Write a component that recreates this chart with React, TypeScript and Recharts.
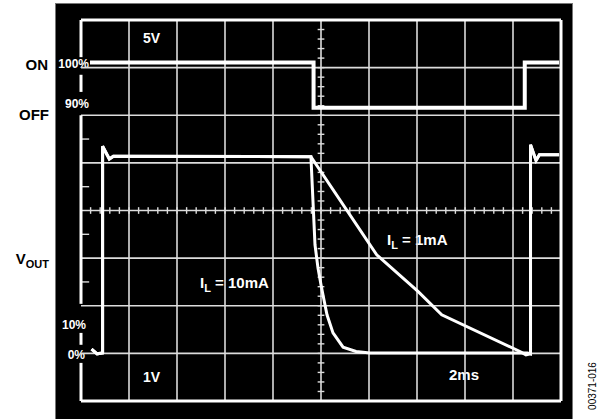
import React from 'react';
import { ComposedChart, Line, XAxis, YAxis, ReferenceLine } from 'recharts';

// time in ms (2 ms/div), amplitude in screen divisions (0 = bottom, 8 = top)
const timeGrid = [0, 2, 4, 6, 8, 10, 12, 14, 16, 18, 20];
const levelGrid = [0, 1, 2, 3, 4, 5, 6, 7, 8];

// shutdown / control input (5V/div): ON at top, OFF one step lower
const controlTrace = [
  { t: 0.375, v: 7.11 },
  { t: 9.69, v: 7.11 },
  { t: 9.69, v: 6.16 },
  { t: 18.49, v: 6.16 },
  { t: 18.49, v: 7.11 },
  { t: 19.92, v: 7.11 },
];

// V_OUT (1V/div) turn-on at the left edge
const turnOnLeft = [
  { t: 0.44, v: 1.09 },
  { t: 0.67, v: 0.99 },
  { t: 0.9, v: 1.01 },
  { t: 0.9, v: 5.35 },
  { t: 1.18, v: 5.08 },
  { t: 1.35, v: 5.14 },
  { t: 9.58, v: 5.13 },
];

// discharge with IL = 10mA
const decay10mA = [
  { t: 9.75, v: 3.28 },
  { t: 9.875, v: 2.79 },
  { t: 10.0, v: 2.44 },
  { t: 10.125, v: 2.12 },
  { t: 10.25, v: 1.81 },
  { t: 10.5, v: 1.43 },
  { t: 10.92, v: 1.13 },
  { t: 11.46, v: 1.04 },
  { t: 12.04, v: 1.01 },
  { t: 18.6, v: 1.01 },
];

// discharge with IL = 1mA
const decay1mA = [
  { t: 12.32, v: 3.07 },
  { t: 14.04, v: 2.3 },
  { t: 15.03, v: 1.81 },
  { t: 18.29, v: 1.04 },
  { t: 18.54, v: 0.97 },
];

// turn-on again at the right edge
const turnOnRight = [
  { t: 18.73, v: 0.99 },
  { t: 18.73, v: 5.38 },
  { t: 18.96, v: 5.05 },
  { t: 19.1, v: 5.17 },
  { t: 19.92, v: 5.17 },
];

const vout10mA = [...turnOnLeft, ...decay10mA, ...turnOnRight];
const vout1mA = [...turnOnLeft, ...decay1mA, ...turnOnRight];

// left frame edge is broken where the level labels sit
const leftFrameSegments = [
  [7.22, 8],
  [6.49, 6.85],
  [2.04, 6.0],
  [1.18, 1.43],
  [0, 0.8],
];
const leftFrameTicks = [2.5, 3.5, 4.5, 5.5];

const minorX: number[] = [];
for (let i = 1; i < 50; i++) minorX.push(i * 0.4);
const minorY: number[] = [];
for (let i = 1; i < 40; i++) minorY.push(i * 0.2);

const GRID = '#dcdcdc';
const FONT = '"Liberation Sans", Arial, sans-serif';

export default function App() {
  return (
    <div style={{ position: 'absolute', left: 0, top: 0, width: 599, height: 419, fontFamily: FONT }}>
      <div
        style={{
          position: 'absolute',
          left: 55,
          top: 3,
          width: 518,
          height: 418,
          background: '#000',
          border: '1px solid #777',
          boxSizing: 'border-box',
        }}
      />
      <div style={{ position: 'absolute', left: 0, top: 0 }}>
        <ComposedChart width={599} height={419} margin={{ top: 20, right: 38, bottom: 18, left: 81 }}>
          <XAxis dataKey="t" type="number" domain={[0, 20]} hide allowDataOverflow />
          <YAxis type="number" domain={[0, 8]} hide allowDataOverflow />

          {timeGrid.slice(1, -1).map((x) => (
            <ReferenceLine key={'gx' + x} x={x} stroke={GRID} strokeWidth={1.6} />
          ))}
          {levelGrid.slice(1, -1).map((y) => (
            <ReferenceLine key={'gy' + y} y={y} stroke={GRID} strokeWidth={1.6} />
          ))}

          {minorX.map((x) => (
            <ReferenceLine
              key={'mx' + x}
              segment={[{ x, y: 3.93 }, { x, y: 4.07 }]}
              stroke={GRID}
              strokeWidth={1.4}
            />
          ))}
          {minorY.map((y) => (
            <ReferenceLine
              key={'my' + y}
              segment={[{ x: 9.86, y }, { x: 10.14, y }]}
              stroke={GRID}
              strokeWidth={1.4}
            />
          ))}
          {leftFrameTicks.map((y) => (
            <ReferenceLine
              key={'lt' + y}
              segment={[{ x: 0, y }, { x: 0.34, y }]}
              stroke={GRID}
              strokeWidth={1.4}
            />
          ))}

          <ReferenceLine y={8} stroke="#fff" strokeWidth={3} ifOverflow="visible" />
          <ReferenceLine y={0} stroke="#fff" strokeWidth={3} ifOverflow="visible" />
          <ReferenceLine x={20} stroke="#fff" strokeWidth={3} ifOverflow="visible" />
          {leftFrameSegments.map(([a, b]) => (
            <ReferenceLine
              key={'lf' + a}
              segment={[{ x: 0, y: a }, { x: 0, y: b }]}
              stroke="#fff"
              strokeWidth={3}
              ifOverflow="visible"
            />
          ))}

          <Line data={controlTrace} dataKey="v" type="linear" stroke="#fff" strokeWidth={4} dot={false} isAnimationActive={false} />
          <Line data={vout10mA} dataKey="v" type="linear" stroke="#fff" strokeWidth={3} dot={false} isAnimationActive={false} />
          <Line data={vout1mA} dataKey="v" type="linear" stroke="#fff" strokeWidth={3} dot={false} isAnimationActive={false} />

          <g fontFamily={FONT} fontWeight="bold">
            <text x={48} y={70} fontSize={15} textAnchor="end" fill="#000">ON</text>
            <text x={49} y={120} fontSize={15} textAnchor="end" fill="#000">OFF</text>
            <text x={49} y={264} fontSize={15} textAnchor="end" fill="#000">
              V<tspan fontSize={11} dy={4}>OUT</tspan>
            </text>
            <text x={89} y={68} fontSize={12} textAnchor="end" fill="#fff">100%</text>
            <text x={89} y={108} fontSize={12} textAnchor="end" fill="#fff">90%</text>
            <text x={86} y={329} fontSize={12} textAnchor="end" fill="#fff">10%</text>
            <text x={85} y={359} fontSize={12} textAnchor="end" fill="#fff">0%</text>
            <text x={143} y={43} fontSize={14} fill="#fff">5V</text>
            <text x={143} y={382} fontSize={14} fill="#fff">1V</text>
            <text x={449} y={380} fontSize={15} fill="#fff">2ms</text>
            <text x={387} y={245} fontSize={15} fill="#fff">
              I<tspan fontSize={11} dy={4}>L</tspan>
              <tspan dy={-4}> = 1mA</tspan>
            </text>
            <text x={200} y={288} fontSize={15} fill="#fff">
              I<tspan fontSize={11} dy={4}>L</tspan>
              <tspan dy={-4}> = 10mA</tspan>
            </text>
          </g>
          <text x={596} y={386} fontSize={10} fontFamily={FONT} textAnchor="middle" fill="#000" transform="rotate(-90 596 386)">
            00371-016
          </text>
        </ComposedChart>
      </div>
    </div>
  );
}
